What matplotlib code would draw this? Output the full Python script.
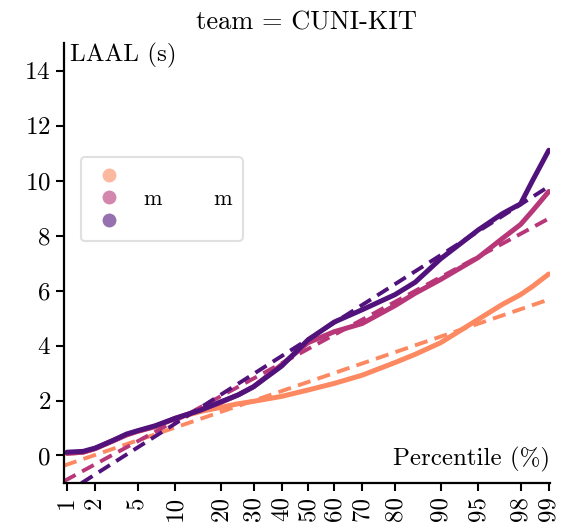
import numpy as np
import matplotlib
matplotlib.use("Agg")
import matplotlib.pyplot as plt
from matplotlib.lines import Line2D
from statistics import NormalDist

plt.rcParams['font.family'] = 'serif'
plt.rcParams['font.serif'] = ['cmr10']
plt.rcParams['mathtext.fontset'] = 'cm'
plt.rcParams['axes.formatter.use_mathtext'] = True

# percentile positions of the empirical quantiles
pct = [1, 1.5, 2, 3, 4, 5, 7, 10, 15, 20, 25, 30, 40, 50, 60, 70, 80, 85, 90, 95, 97, 98, 98.5, 99]
laal_orange = [0.08, 0.12, 0.25, 0.55, 0.75, 0.88, 1.05, 1.35, 1.6, 1.75, 1.88, 1.97, 2.15, 2.38,
               2.62, 2.92, 3.38, 3.68, 4.1, 4.95, 5.5, 5.85, 6.15, 6.6]
laal_pink = [0.08, 0.12, 0.25, 0.53, 0.75, 0.88, 1.05, 1.35, 1.65, 1.93, 2.2, 2.5, 3.3, 4.1,
             4.5, 4.8, 5.45, 5.9, 6.4, 7.2, 7.9, 8.4, 8.9, 9.6]
laal_purple = [0.12, 0.15, 0.27, 0.55, 0.78, 0.9, 1.08, 1.35, 1.65, 1.95, 2.2, 2.5, 3.25, 4.2,
               4.85, 5.3, 5.85, 6.3, 7.15, 8.2, 8.8, 9.15, 10.0, 11.1]

# normal fits (mean, std) for the dashed lines
fit_mu = [2.67, 3.87, 4.22]
fit_sd = [1.29, 2.04, 2.39]

colors = ['#fc8961', '#b73779', '#51127c']
tick_pct = [1, 2, 5, 10, 20, 30, 40, 50, 60, 70, 80, 90, 95, 98, 99]

nd = NormalDist()
def z(p):
    return np.array([nd.inv_cdf(v / 100.0) for v in np.atleast_1d(p)])

fig = plt.figure(figsize=(5.61, 5.31), dpi=100)
ax = fig.add_axes([0.114, 0.0904, 0.866, 0.8286])

xlim = (-2.355, 2.336)
zz = np.linspace(xlim[0], xlim[1], 50)
for ys, c, mu, sd in zip([laal_orange, laal_pink, laal_purple], colors, fit_mu, fit_sd):
    ax.plot(z(pct), ys, color=c, lw=3.6, solid_capstyle='round', solid_joinstyle='round')
    ax.plot(zz, mu + sd * zz, color=c, lw=2.8, ls=(0, (3.4, 1.9)))

ax.set_xlim(xlim)
ax.set_ylim(-1, 15)
ax.set_xticks(z(tick_pct))
ax.set_xticklabels([str(t) for t in tick_pct], rotation=90)
ax.set_yticks(range(0, 15, 2))
ax.tick_params(labelsize=18, length=6, width=1.5)
for s in ['top', 'right']:
    ax.spines[s].set_visible(False)
for s in ['left', 'bottom']:
    ax.spines[s].set_linewidth(1.6)

ax.text(0.012, 1.0, 'LAAL (s)', transform=ax.transAxes, ha='left', va='top', fontsize=18)
ax.text(1.0, 0.025, 'Percentile (%)', transform=ax.transAxes, ha='right', va='bottom', fontsize=18)
ax.set_title('team = CUNI-KIT', fontsize=19, pad=10)

handles = [Line2D([], [], ls='', marker='o', ms=10, mew=0, color=c, alpha=0.6) for c in colors]
leg = ax.legend(handles, ['', 'm       m', ''], loc='upper left', bbox_to_anchor=(0.035, 0.74),
                fontsize=16, frameon=True, borderpad=0.45, labelspacing=0.12, handletextpad=0.8,
                handlelength=1.6, borderaxespad=0)
leg.get_frame().set_edgecolor('#d9d9d9')
leg.get_frame().set_linewidth(1.5)

fig.savefig('out.png', dpi=100)
